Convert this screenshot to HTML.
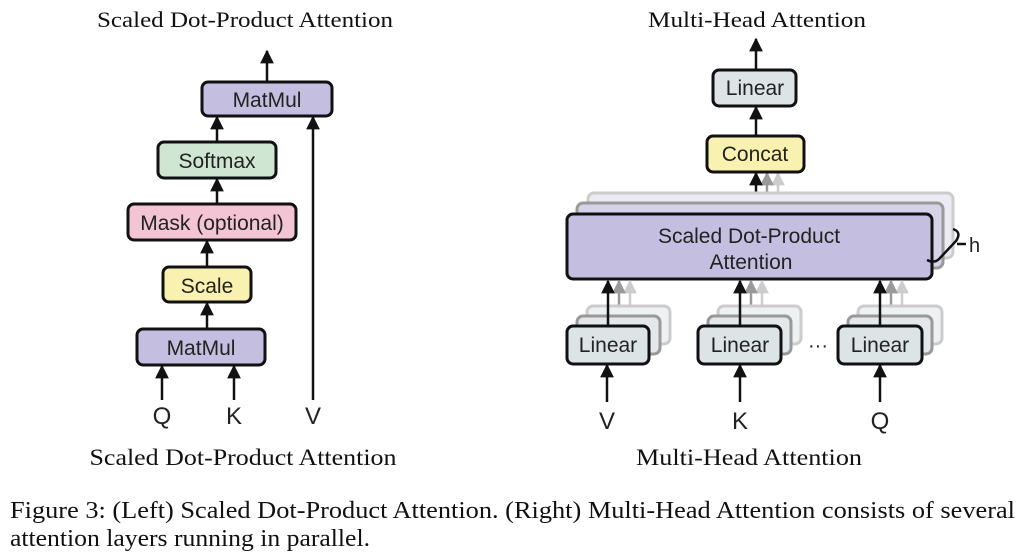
<!DOCTYPE html>
<html><head><meta charset="utf-8"><style>
html,body{margin:0;padding:0;background:#fff;}
svg{display:block;}
.s{font-family:"Liberation Serif",serif;fill:#111;}
.a{font-family:"Liberation Sans",sans-serif;fill:#222;}
</style></head><body>
<svg width="1024" height="559" viewBox="0 0 1024 559" xmlns="http://www.w3.org/2000/svg">
<defs>
<marker id="ah" viewBox="0 0 10 10" refX="9" refY="5" markerWidth="5.5" markerHeight="5.5" orient="auto"><path d="M0,0 L10,5 L0,10 z" fill="#111"/></marker>
<marker id="ag" viewBox="0 0 10 10" refX="9" refY="5" markerWidth="5.5" markerHeight="5.5" orient="auto"><path d="M0,0 L10,5 L0,10 z" fill="#999"/></marker>
<marker id="al" viewBox="0 0 10 10" refX="9" refY="5" markerWidth="5.5" markerHeight="5.5" orient="auto"><path d="M0,0 L10,5 L0,10 z" fill="#ccc"/></marker>
</defs>

<text class="s" x="245" y="27" font-size="22" text-anchor="middle" textLength="296" lengthAdjust="spacingAndGlyphs">Scaled Dot-Product Attention</text>
<text class="s" x="757" y="27" font-size="22" text-anchor="middle" textLength="218" lengthAdjust="spacingAndGlyphs">Multi-Head Attention</text>
<text class="s" x="243" y="465" font-size="23" text-anchor="middle" textLength="307" lengthAdjust="spacingAndGlyphs">Scaled Dot-Product Attention</text>
<text class="s" x="749" y="465" font-size="23" text-anchor="middle" textLength="226" lengthAdjust="spacingAndGlyphs">Multi-Head Attention</text>
<text class="s" x="10" y="518" font-size="24" textLength="1005" lengthAdjust="spacingAndGlyphs">Figure 3: (Left) Scaled Dot-Product Attention. (Right) Multi-Head Attention consists of several</text>
<text class="s" x="10" y="546" font-size="24" textLength="360" lengthAdjust="spacingAndGlyphs">attention layers running in parallel.</text>

<!-- LEFT -->
<g stroke="#111" stroke-width="2.5" fill="none">
<line x1="267" y1="82" x2="267" y2="51" marker-end="url(#ah)"/>
<line x1="217" y1="142" x2="217" y2="117" marker-end="url(#ah)"/>
<line x1="217" y1="204" x2="217" y2="179" marker-end="url(#ah)"/>
<line x1="207" y1="267" x2="207" y2="241" marker-end="url(#ah)"/>
<line x1="207" y1="329" x2="207" y2="303" marker-end="url(#ah)"/>
<line x1="162" y1="400" x2="162" y2="366" marker-end="url(#ah)"/>
<line x1="234" y1="400" x2="234" y2="366" marker-end="url(#ah)"/>
<line x1="313" y1="400" x2="313" y2="117" marker-end="url(#ah)"/>
</g>
<g stroke="#111" stroke-width="3">
<rect x="202" y="82" width="130" height="34" rx="6" fill="#c4bfe0"/>
<rect x="158" y="142" width="118" height="36" rx="6" fill="#cfe6d2"/>
<rect x="128" y="204" width="168" height="36" rx="6" fill="#f3c5d4"/>
<rect x="163" y="267" width="88" height="35" rx="6" fill="#f8f1b0"/>
<rect x="137" y="329" width="128" height="36" rx="6" fill="#c4bfe0"/>
</g>
<g class="a" font-size="21" text-anchor="middle">
<text x="267" y="107">MatMul</text>
<text x="217" y="168">Softmax</text>
<text x="212" y="230">Mask (optional)</text>
<text x="207" y="293">Scale</text>
<text x="201" y="355">MatMul</text>
</g>
<g class="a" font-size="24" text-anchor="middle">
<text x="162" y="424">Q</text><text x="234" y="424">K</text><text x="313" y="424">V</text>
</g>

<!-- RIGHT -->
<g stroke-width="2.5" fill="none">
<line x1="756" y1="70" x2="756" y2="39" stroke="#111" marker-end="url(#ah)"/>
<line x1="756" y1="136" x2="756" y2="107" stroke="#111" marker-end="url(#ah)"/>
<line x1="778" y1="193" x2="778" y2="173" stroke="#ccc" marker-end="url(#al)"/>
<line x1="767" y1="203" x2="767" y2="173" stroke="#999" marker-end="url(#ag)"/>
<line x1="756" y1="214" x2="756" y2="173" stroke="#111" marker-end="url(#ah)"/>
</g>
<rect x="588" y="193" width="365" height="65" rx="6" fill="#ecebf3" stroke="#ccc" stroke-width="3"/>
<rect x="577" y="203" width="366" height="65" rx="6" fill="#d6d2e8" stroke="#999" stroke-width="3"/>
<rect x="567" y="214" width="365" height="65" rx="6" fill="#c4bfe0" stroke="#111" stroke-width="3"/>
<text class="a" x="749" y="243" font-size="21" text-anchor="middle">Scaled Dot-Product</text>
<text class="a" x="751" y="269" font-size="21" text-anchor="middle">Attention</text>
<path d="M953,229 Q962,232 956,241 L940,258 Q935,264 927,260" fill="none" stroke="#111" stroke-width="2.5"/>
<line x1="957" y1="244" x2="966" y2="244" stroke="#111" stroke-width="2.5"/>
<text class="a" x="969" y="252" font-size="20">h</text>

<g stroke="#111" stroke-width="3">
<rect x="713" y="70" width="83" height="36" rx="6" fill="#dde4e6"/>
<rect x="707" y="136" width="97" height="36" rx="6" fill="#f8f1b0"/>
</g>
<text class="a" x="755" y="95" font-size="21" text-anchor="middle">Linear</text>
<text class="a" x="755" y="161" font-size="21" text-anchor="middle">Concat</text>

<g>
<line x1="630" y1="306" x2="630" y2="281" stroke="#ccc" stroke-width="2.5" marker-end="url(#al)"/>
<line x1="619" y1="316" x2="619" y2="281" stroke="#999" stroke-width="2.5" marker-end="url(#ag)"/>
<rect x="587" y="306" width="83" height="38" rx="6" fill="#eef1f2" stroke="#ccc" stroke-width="3"/>
<rect x="577" y="316" width="83" height="38" rx="6" fill="#e3e8ea" stroke="#999" stroke-width="3"/>
<rect x="567" y="326" width="82" height="38" rx="6" fill="#dde4e6" stroke="#111" stroke-width="3"/>
<line x1="608" y1="326" x2="608" y2="281" stroke="#111" stroke-width="2.5" marker-end="url(#ah)"/>
<text class="a" x="608" y="352" font-size="21" text-anchor="middle">Linear</text>

<line x1="762" y1="306" x2="762" y2="281" stroke="#ccc" stroke-width="2.5" marker-end="url(#al)"/>
<line x1="751" y1="316" x2="751" y2="281" stroke="#999" stroke-width="2.5" marker-end="url(#ag)"/>
<rect x="718" y="306" width="83" height="38" rx="6" fill="#eef1f2" stroke="#ccc" stroke-width="3"/>
<rect x="708" y="316" width="83" height="38" rx="6" fill="#e3e8ea" stroke="#999" stroke-width="3"/>
<rect x="698" y="326" width="83" height="38" rx="6" fill="#dde4e6" stroke="#111" stroke-width="3"/>
<line x1="740" y1="326" x2="740" y2="281" stroke="#111" stroke-width="2.5" marker-end="url(#ah)"/>
<text class="a" x="740" y="352" font-size="21" text-anchor="middle">Linear</text>

<line x1="902" y1="306" x2="902" y2="281" stroke="#ccc" stroke-width="2.5" marker-end="url(#al)"/>
<line x1="891" y1="316" x2="891" y2="281" stroke="#999" stroke-width="2.5" marker-end="url(#ag)"/>
<rect x="858" y="306" width="84" height="38" rx="6" fill="#eef1f2" stroke="#ccc" stroke-width="3"/>
<rect x="848" y="316" width="84" height="38" rx="6" fill="#e3e8ea" stroke="#999" stroke-width="3"/>
<rect x="838" y="326" width="84" height="38" rx="6" fill="#dde4e6" stroke="#111" stroke-width="3"/>
<line x1="880" y1="326" x2="880" y2="281" stroke="#111" stroke-width="2.5" marker-end="url(#ah)"/>
<text class="a" x="880" y="352" font-size="21" text-anchor="middle">Linear</text>
</g>
<text class="a" x="818" y="352" font-size="20" text-anchor="middle">···</text>
<g stroke="#111" stroke-width="2.5">
<line x1="607" y1="402" x2="607" y2="365" marker-end="url(#ah)"/>
<line x1="740" y1="402" x2="740" y2="365" marker-end="url(#ah)"/>
<line x1="880" y1="402" x2="880" y2="365" marker-end="url(#ah)"/>
</g>
<g class="a" font-size="24" text-anchor="middle">
<text x="607" y="429">V</text><text x="740" y="429">K</text><text x="880" y="429">Q</text>
</g>
</svg>
</body></html>
